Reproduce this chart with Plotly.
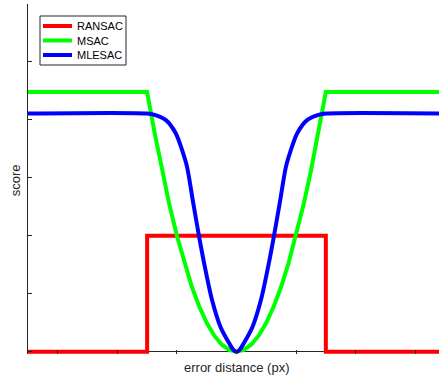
import plotly.graph_objects as go

# ---- data ----
ransac_x = [-3.5, -1.5, -1.5, 1.5, 1.5, 3.5]
ransac_y = [0, 0, 2, 2, 0, 0]

msac_x = [-3.5, -1.5, -1.375, -1.25, -1.125, -1.0, -0.875, -0.75, -0.625, -0.5, -0.375, -0.25, -0.125, 0,
          0.125, 0.25, 0.375, 0.5, 0.625, 0.75, 0.875, 1.0, 1.125, 1.25, 1.375, 1.5, 3.5]
msac_y = [4.48, 4.48, 3.78, 3.12, 2.53, 2.0, 1.53, 1.12, 0.78, 0.5, 0.28, 0.125, 0.03, 0,
          0.03, 0.125, 0.28, 0.5, 0.78, 1.12, 1.53, 2.0, 2.53, 3.12, 3.78, 4.48, 4.48]

mlesac_x = [-3.5, -1.5, -1.39, -1.19, -1.02, -0.91, -0.83, -0.73, -0.63, -0.53, -0.41, -0.27, -0.12, -0.05, 0,
            0.05, 0.12, 0.27, 0.41, 0.53, 0.63, 0.73, 0.83, 0.91, 1.02, 1.19, 1.39, 1.5, 3.5]
mlesac_y = [4.11, 4.11, 4.09, 4.0, 3.77, 3.47, 3.19, 2.59, 2.0, 1.46, 0.89, 0.43, 0.14, 0.03, 0,
            0.03, 0.14, 0.43, 0.89, 1.46, 2.0, 2.59, 3.19, 3.47, 3.77, 4.0, 4.09, 4.11, 4.11]

series_names = ["RANSAC", "MSAC", "MLESAC"]
series_colors = ["#FF0000", "#00FF00", "#0000FF"]

x_ticks = [-3, -2, -1, 0, 1, 2, 3]
y_ticks = [0, 1, 2, 3, 4, 5, 6]

AX = "#262626"
FONT = "Liberation Sans, Arial, Helvetica, sans-serif"

W, H = 439, 376
ML, MR, MT, MB = 28, 0, 4, 22
PW, PH = W - ML - MR, H - MT - MB


def px_x(px):
    return (px - ML) / PW


def px_y(py):
    return (H - MB - py) / PH


fig = go.Figure()
fig.add_trace(go.Scatter(x=ransac_x, y=ransac_y, mode="lines", name=series_names[0],
                         line=dict(color=series_colors[0], width=4)))
fig.add_trace(go.Scatter(x=msac_x, y=msac_y, mode="lines", name=series_names[1],
                         line=dict(color=series_colors[1], width=4)))
fig.add_trace(go.Scatter(x=mlesac_x, y=mlesac_y, mode="lines", name=series_names[2],
                         line=dict(color=series_colors[2], width=4, shape="spline", smoothing=0.8)))

# compact legend box (drawn as shapes + text)
shapes = [dict(type="rect", xref="paper", yref="paper",
               x0=px_x(40), x1=px_x(126), y0=px_y(65), y1=px_y(16),
               line=dict(color=AX, width=1), fillcolor="white", layer="above")]
annotations = []
for i, (nm, col) in enumerate(zip(series_names, series_colors)):
    yy = 26 + i * 14.5
    shapes.append(dict(type="line", xref="paper", yref="paper",
                       x0=px_x(43), x1=px_x(72), y0=px_y(yy), y1=px_y(yy),
                       line=dict(color=col, width=4), layer="above"))
    annotations.append(dict(text=nm, xref="paper", yref="paper", x=px_x(75), y=px_y(yy),
                            xanchor="left", yanchor="middle", showarrow=False,
                            font=dict(size=11, color="black")))

annotations += [
    dict(text="error distance (px)", xref="x", yref="paper", x=0, y=0,
         yshift=-4, showarrow=False, xanchor="center", yanchor="top",
         font=dict(size=13, color=AX)),
    dict(text="score", xref="paper", yref="y", x=0, y=2.95, xshift=-12.5,
         showarrow=False, textangle=-90, xanchor="center", yanchor="middle",
         font=dict(size=13, color=AX)),
]

fig.update_layout(
    width=W, height=H,
    margin=dict(l=ML, r=MR, t=MT, b=MB),
    paper_bgcolor="white", plot_bgcolor="white",
    font=dict(family=FONT, size=11, color=AX),
    showlegend=False,
    xaxis=dict(range=[-3.5, 3.4], tickvals=x_ticks, showticklabels=False,
               ticks="inside", ticklen=4, tickcolor=AX, showgrid=False,
               zeroline=False, showline=False),
    yaxis=dict(range=[-0.04, 6], tickvals=y_ticks, showticklabels=False,
               ticks="inside", ticklen=4, tickcolor=AX, showgrid=False,
               zeroline=True, zerolinecolor=AX, zerolinewidth=1,
               showline=True, linecolor=AX, linewidth=1),
    shapes=shapes,
    annotations=annotations,
)

fig.write_html("out.html", config={"displayModeBar": False},
               post_script="document.body.style.margin='0px';")
